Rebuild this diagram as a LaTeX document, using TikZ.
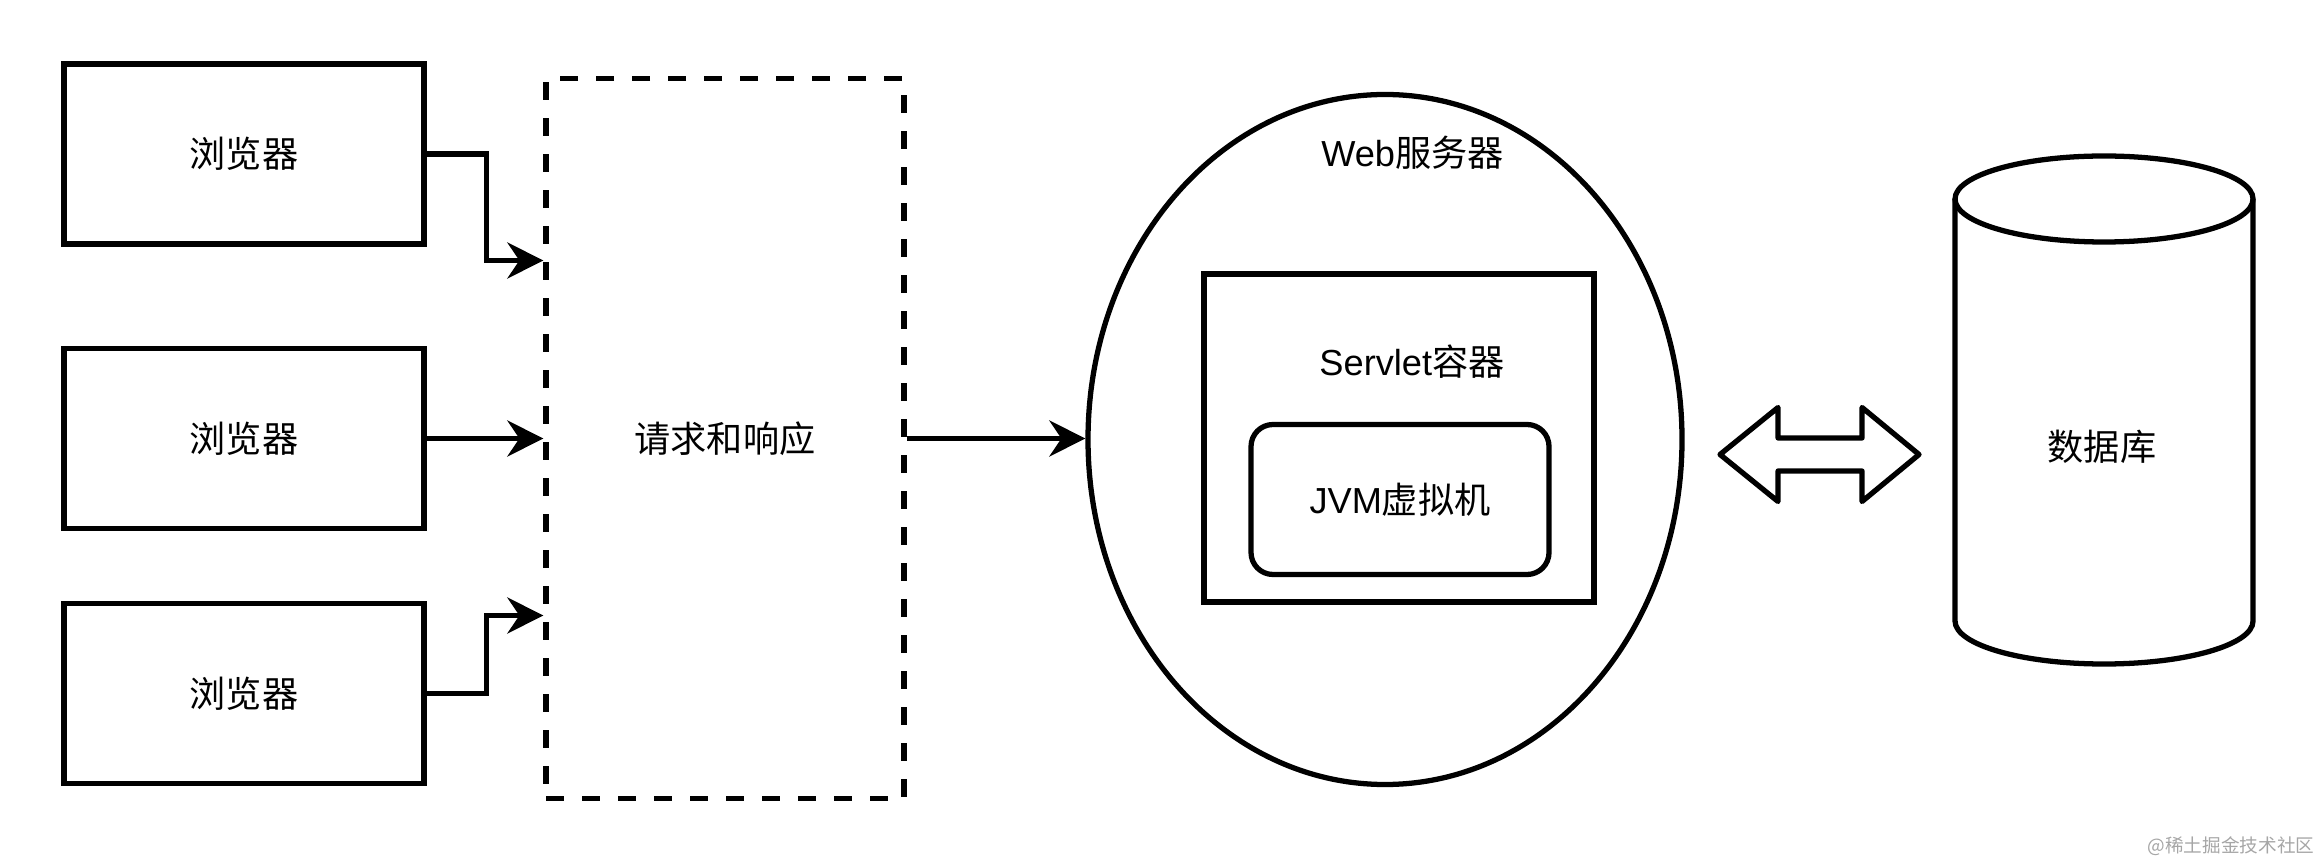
\documentclass[tikz,border=0pt]{standalone}
\usepackage{fontspec}
\setmainfont{Liberation Sans}
\newfontfamily\cjk{Noto Sans CJK SC}
\usetikzlibrary{arrows.meta,positioning,shapes.geometric}

\begin{document}
\begin{tikzpicture}[line width=1.5pt, every node/.style={font=\fontsize{10.3}{12}\selectfont},
  clientbox/.style={draw, minimum width=3.6cm, minimum height=1.8cm, inner sep=0pt},
  conn/.style={-{Stealth[length=3.6mm, width=3.6mm, inset=1.2mm]}}]
  \useasboundingbox (0,0) rectangle (23.19,-8.64);
  % browsers
  \node[clientbox] (b1) at (2.44,-1.54) {\cjk 浏览器};
  \node[clientbox] (b2) at (2.44,-4.385) {\cjk 浏览器};
  \node[clientbox] (b3) at (2.44,-6.935) {\cjk 浏览器};
  \node[draw, dash pattern=on 0.18cm off 0.18cm, minimum width=3.58cm, minimum height=7.2cm] (req) at (7.25,-4.385) {\cjk 请求和响应};
  \coordinate (in1) at ([yshift=1.78cm]req.west);
  \coordinate (in3) at ([yshift=-1.77cm]req.west);
  \draw[conn] (b1.east) -- ++(0.6,0) |- (in1);
  \draw[conn] (b2.east) -- (req.west);
  \draw[conn] (b3.east) -- ++(0.6,0) |- (in3);
  % web server
  \node[draw, ellipse, minimum width=5.94cm, minimum height=6.9cm, inner sep=0pt] (web) at (13.85,-4.395) {};
  \node (weblbl) at (14.125,-1.53) {Web{\cjk 服务器}};
  \draw[conn] (req.east) -- (req.east -| web.west);
  \node[draw, minimum width=3.9cm, minimum height=3.28cm] (servlet) at (13.99,-4.38) {};
  \node (servletlbl) at (14.12,-3.62) {Servlet{\cjk 容器}};
  \node[draw, rounded corners=0.22cm, minimum width=2.98cm, minimum height=1.5cm] (jvm) at (14.0,-4.995) {JVM{\cjk 虚拟机}};
  % double arrow
  \draw[line join=round] (17.20,-4.545) -- (17.78,-4.075) -- (17.78,-4.38) -- (18.62,-4.38) -- (18.62,-4.075)
    -- (19.19,-4.545) -- (18.62,-5.015) -- (18.62,-4.71) -- (17.78,-4.71) -- (17.78,-5.015) -- cycle;
  % database
  \draw (19.55,-1.99) -- (19.55,-6.21) arc[start angle=180, end angle=360, x radius=1.49, y radius=0.43] -- (22.53,-1.99);
  \draw (21.04,-1.99) ellipse[x radius=1.49, y radius=0.43];
  \node (db) at (21.02,-4.47) {\cjk 数据库};
  \node[text=black!35, font=\fontsize{5.3}{6}\selectfont\cjk] (mark) at (22.31,-8.46) {@稀土掘金技术社区};
\end{tikzpicture}
\end{document}
